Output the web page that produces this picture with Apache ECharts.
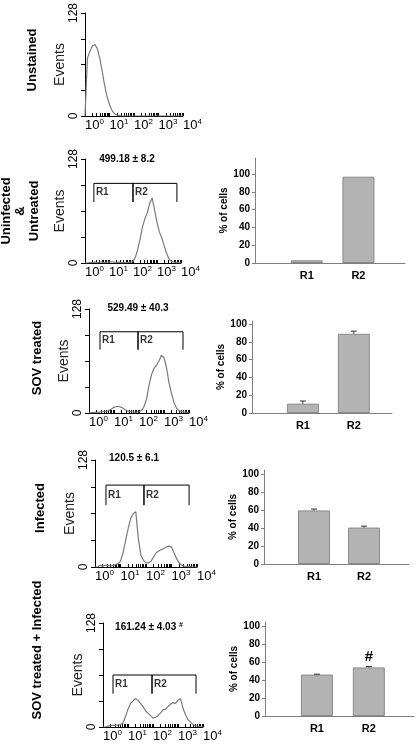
<!DOCTYPE html>
<html><head><meta charset="utf-8">
<script src="https://cdn.jsdelivr.net/npm/echarts@6/dist/echarts.min.js"></script>
<style>html,body{margin:0;padding:0;background:#fff}#c{width:416px;height:744px}</style>
</head><body><div id="c"></div>
<script>
// ---- data ----
const logX = [0,0.1,0.2,0.3,0.4,0.5,0.6,0.7,0.8,0.9,1.0,1.1,1.2,1.3,1.4,1.5,1.6,1.7,1.8,1.9,2.0,2.1,2.2,2.3,2.4,2.5,2.6,2.7,2.8,2.9,3.0,3.1,3.2,3.3,3.4,3.5,3.6,3.7,3.8,3.9,4.0];
const histUnstained = [0,72,80,87,89,84,72,56,38,24,14,7,3,1,0.5,0,0,0,0,0,0,0,0,0,0,0,0,0,0,0,0,0,0,0,0,0,0,0,0,0,0];
const histUninfected = [0,0,0.5,0.5,1,0.5,1,1,0.5,1,1,1.5,1,0.5,1,0.5,0.5,0.5,0.5,1,2,7,17,30,45,55,62,74,80,65,50,38,31,21,12,5,2,1,0.5,0.5,0];
const histSOV = [0,0.5,0.5,1,1,1.5,2,2,3,5,7,8,8,7,5,3,2,1.5,1,1,1.5,3,8,17,34,47,55,59,64,71,68,56,37,24,13,6,3,2,1,1,0];
const histInfected = [0,0,2,1,2,2,1.5,2,3,4,7,17,32,46,58,64,66,34,14,8,5,5,7,12,17,19,21,22,24,25,24,17,10,5,2,1,0.5,0.5,0,0,0];
const histSOVInf = [0,0,1,2,2,2,2.5,3,5,13,22,29,32,35,33,29,25,20,17,14,11,12,14,17,21,22,25,28,30,29,33,35,23,15,9,6,3,1.5,1,0.5,0];

// gates: [R1 start, R1/R2 divider, R2 end, gate level, drop level] (log decades / events)
const gateUninfected = [0.37, 2.0, 3.83, 98, 75];
const gateSOV = [0.44, 1.96, 3.76, 100, 78];
const gateInfected = [0.43, 1.92, 3.69, 98, 74];
const gateSOVInf = [0.4, 1.96, 3.72, 64, 41];
const gateNames = ['R1', 'R2'];

const meanUninfected = '499.18 ± 8.2';
const meanSOV = '529.49 ± 40.3';
const meanInfected = '120.5 ± 6.1';
const meanSOVInf = '161.24 ± 4.03';

const rowLabels = ['Unstained', 'Uninfected\n&\nUntreated', 'SOV treated', 'Infected', 'SOV treated + Infected'];

const xDecades = [0, 1, 2, 3, 4];
const xExp = ['0', '1', '2', '3', '4'];
const histYLabels = [0, 128];

const barCategories = ['R1', 'R2'];
const barPos = [1, 2];
const barYTicks = [0, 20, 40, 60, 80, 100];
const barsUninfected = [3, 97];   const errUninfected = [0, 0];
const barsSOV = [10.5, 89];       const errSOV = [3, 3];
const barsInfected = [59.5, 40.5]; const errInfected = [1.5, 1.5];
const barsSOVInf = [46, 54];      const errSOVInf = [0.5, 1];
const marksSOVInf = ['', '#'];

// ---- layout ----
const FONT = 'Liberation Sans, Arial, sans-serif';
const histPanels = [
  {data: histUnstained, grid: {left: 85, top: 10, width: 98, height: 106}},
  {data: histUninfected, grid: {left: 85, top: 159, width: 96, height: 104}, gate: gateUninfected, title: meanUninfected, tpos: [127, 159]},
  {data: histSOV, grid: {left: 89, top: 309, width: 100, height: 104}, gate: gateSOV, title: meanSOV, tpos: [138, 308]},
  {data: histInfected, grid: {left: 95, top: 460, width: 102, height: 107}, gate: gateInfected, title: meanInfected, tpos: [134, 458]},
  {data: histSOVInf, grid: {left: 103, top: 623, width: 100, height: 104}, gate: gateSOVInf, title: meanSOVInf, tpos: [149, 627], sup: '#'}
];
const barPanels = [
  {vals: barsUninfected, err: errUninfected, grid: {left: 255, top: 158, width: 150, height: 105}, xmax: 2.9, ymax: 118},
  {vals: barsSOV, err: errSOV, grid: {left: 252, top: 321, width: 140, height: 92}, xmax: 2.75, ymax: 103.4},
  {vals: barsInfected, err: errInfected, grid: {left: 264, top: 470, width: 145, height: 94}, xmax: 2.9, ymax: 104.4},
  {vals: barsSOVInf, err: errSOVInf, marks: marksSOVInf, grid: {left: 265, top: 622, width: 149, height: 94}, xmax: 2.87, ymax: 104.4}
];
const rowLabelPos = [[32, 60], [20, 211], [37, 358], [40, 508], [37, 650]];

const minorTicks = [];
for (let d = 0; d < 4; d++) for (let k = 1; k < 10; k++) minorTicks.push(d + Math.log10(k));
minorTicks.push(4);

const grids = [], xAxes = [], yAxes = [], series = [], graphics = [];

histPanels.forEach((p, i) => {
  grids.push(Object.assign({containLabel: false}, p.grid));
  xAxes.push({
    gridIndex: i, type: 'value', min: 0, max: 4,
    axisLine: {lineStyle: {color: '#000', width: 1}},
    axisTick: {show: true, inside: true, length: 3, customValues: minorTicks, lineStyle: {color: '#000'}},
    axisLabel: {
      customValues: xDecades, margin: 2, color: '#000', fontFamily: FONT, align: 'left',
      showMinLabel: true, showMaxLabel: true, hideOverlap: false, interval: 0,
      formatter: v => '{b|10}{s|' + xExp[xDecades.indexOf(v)] + '}',
      rich: {
        b: {fontSize: 13, fontFamily: FONT, color: '#000'},
        s: {fontSize: 8, fontFamily: FONT, color: '#000', verticalAlign: 'top', padding: [0, 0, 6, 0]}
      }
    },
    splitLine: {show: false}
  });
  yAxes.push({
    gridIndex: i, type: 'value', min: 0, max: 128, interval: 32,
    axisLine: {show: true, lineStyle: {color: '#000'}},
    axisTick: {show: true, length: 4, lineStyle: {color: '#000'}},
    axisLabel: {customValues: histYLabels, rotate: 90, margin: 5, fontSize: 12, color: '#000', fontFamily: FONT,
      showMinLabel: true, showMaxLabel: true},
    splitLine: {show: false},
    name: 'Events', nameLocation: 'middle', nameGap: 18, nameRotate: 90,
    nameTextStyle: {fontSize: 14, color: '#222', fontFamily: FONT}
  });
  series.push({
    type: 'line', xAxisIndex: i, yAxisIndex: i, symbol: 'none', silent: true,
    data: logX.map((x, j) => [x, p.data[j]]),
    lineStyle: {color: '#7a7a7a', width: 1.2}
  });
  if (p.gate) {
    const [lo, mid, hi, top, drop] = p.gate;
    series.push({
      type: 'line', xAxisIndex: i, yAxisIndex: i, symbol: 'none', silent: true,
      data: [[lo, drop], [lo, top], [mid, top], [mid, drop], [mid, top], [hi, top], [hi, drop]],
      lineStyle: {color: '#000', width: 1}
    });
    series.push({
      type: 'scatter', xAxisIndex: i, yAxisIndex: i, symbolSize: 0, silent: true,
      data: [[lo, (top + drop) / 2], [mid, (top + drop) / 2]],
      label: {show: true, position: 'right', distance: 2, formatter: q => gateNames[q.dataIndex],
        fontWeight: 'bold', fontSize: 10, color: '#000', fontFamily: FONT}
    });
  }
  if (p.title) {
    graphics.push({
      type: 'text', x: p.tpos[0], y: p.tpos[1],
      style: {
        text: p.sup ? '{a|' + p.title + ' }{b|' + p.sup + '}' : p.title,
        rich: {a: {fontSize: 10, fontWeight: 'bold', fontFamily: FONT, fill: '#000'},
               b: {fontSize: 7, fontWeight: 'bold', fontFamily: FONT, fill: '#000', verticalAlign: 'top', padding: [0, 0, 4, 0]}},
        font: 'bold 10px ' + FONT, fill: '#000', align: 'center', verticalAlign: 'middle'
      }
    });
  }
});

barPanels.forEach((p, k) => {
  const i = histPanels.length + k;
  grids.push(Object.assign({containLabel: false}, p.grid));
  xAxes.push({
    gridIndex: i, type: 'value', min: 0, max: p.xmax,
    axisLine: {lineStyle: {color: '#808080', width: 1}},
    axisTick: {show: false},
    axisLabel: {customValues: barPos, formatter: v => barCategories[barPos.indexOf(v)], margin: 7,
      fontSize: 11, fontWeight: 'bold', color: '#000', fontFamily: FONT},
    splitLine: {show: false}
  });
  yAxes.push({
    gridIndex: i, type: 'value', min: 0, max: p.ymax,
    axisLine: {show: true, lineStyle: {color: '#808080'}},
    axisTick: {show: true, length: 3, customValues: barYTicks, lineStyle: {color: '#808080'}},
    axisLabel: {customValues: barYTicks, margin: 5, fontSize: 10, fontWeight: 'bold', color: '#000', fontFamily: FONT},
    splitLine: {show: false},
    name: '% of cells', nameLocation: 'middle', nameGap: 17, nameRotate: 90,
    nameTextStyle: {fontSize: 10, fontWeight: 'bold', color: '#000', fontFamily: FONT}
  });
  series.push({
    type: 'bar', xAxisIndex: i, yAxisIndex: i, barWidth: 32, silent: true,
    data: barPos.map((x, j) => [x, p.vals[j]]),
    itemStyle: {color: '#b3b3b3', borderColor: '#8a8a8a', borderWidth: 1},
    label: p.marks ? {show: true, position: 'top', distance: 3, formatter: q => p.marks[q.dataIndex],
      fontSize: 15, fontWeight: 'bold', color: '#000', fontFamily: FONT} : {show: false}
  });
  series.push({
    type: 'custom', xAxisIndex: i, yAxisIndex: i, silent: true, z: 5,
    data: barPos.map((x, j) => [x, p.vals[j], p.vals[j] + p.err[j]]).filter((d, j) => p.err[j] > 0),
    renderItem: (params, api) => {
      const x = api.value(0), lo = api.value(1), hi = api.value(2);
      const p0 = api.coord([x, lo]), p1 = api.coord([x, hi]);
      return {type: 'group', children: [
        {type: 'line', shape: {x1: p0[0], y1: p0[1], x2: p1[0], y2: p1[1]}, style: {stroke: '#333', lineWidth: 1}},
        {type: 'line', shape: {x1: p1[0] - 3, y1: p1[1], x2: p1[0] + 3, y2: p1[1]}, style: {stroke: '#333', lineWidth: 1}}
      ]};
    }
  });
});

rowLabels.forEach((t, i) => {
  graphics.push({
    type: 'text', x: rowLabelPos[i][0], y: rowLabelPos[i][1], rotation: Math.PI / 2,
    style: {text: t, font: 'bold 13px ' + FONT, fill: '#000', align: 'center', verticalAlign: 'middle', lineHeight: 14}
  });
});

const chart = echarts.init(document.getElementById('c'), null, {renderer: 'canvas'});
chart.setOption({
  animation: false, backgroundColor: '#fff',
  grid: grids, xAxis: xAxes, yAxis: yAxes, series: series, graphic: graphics
});
</script></body></html>
